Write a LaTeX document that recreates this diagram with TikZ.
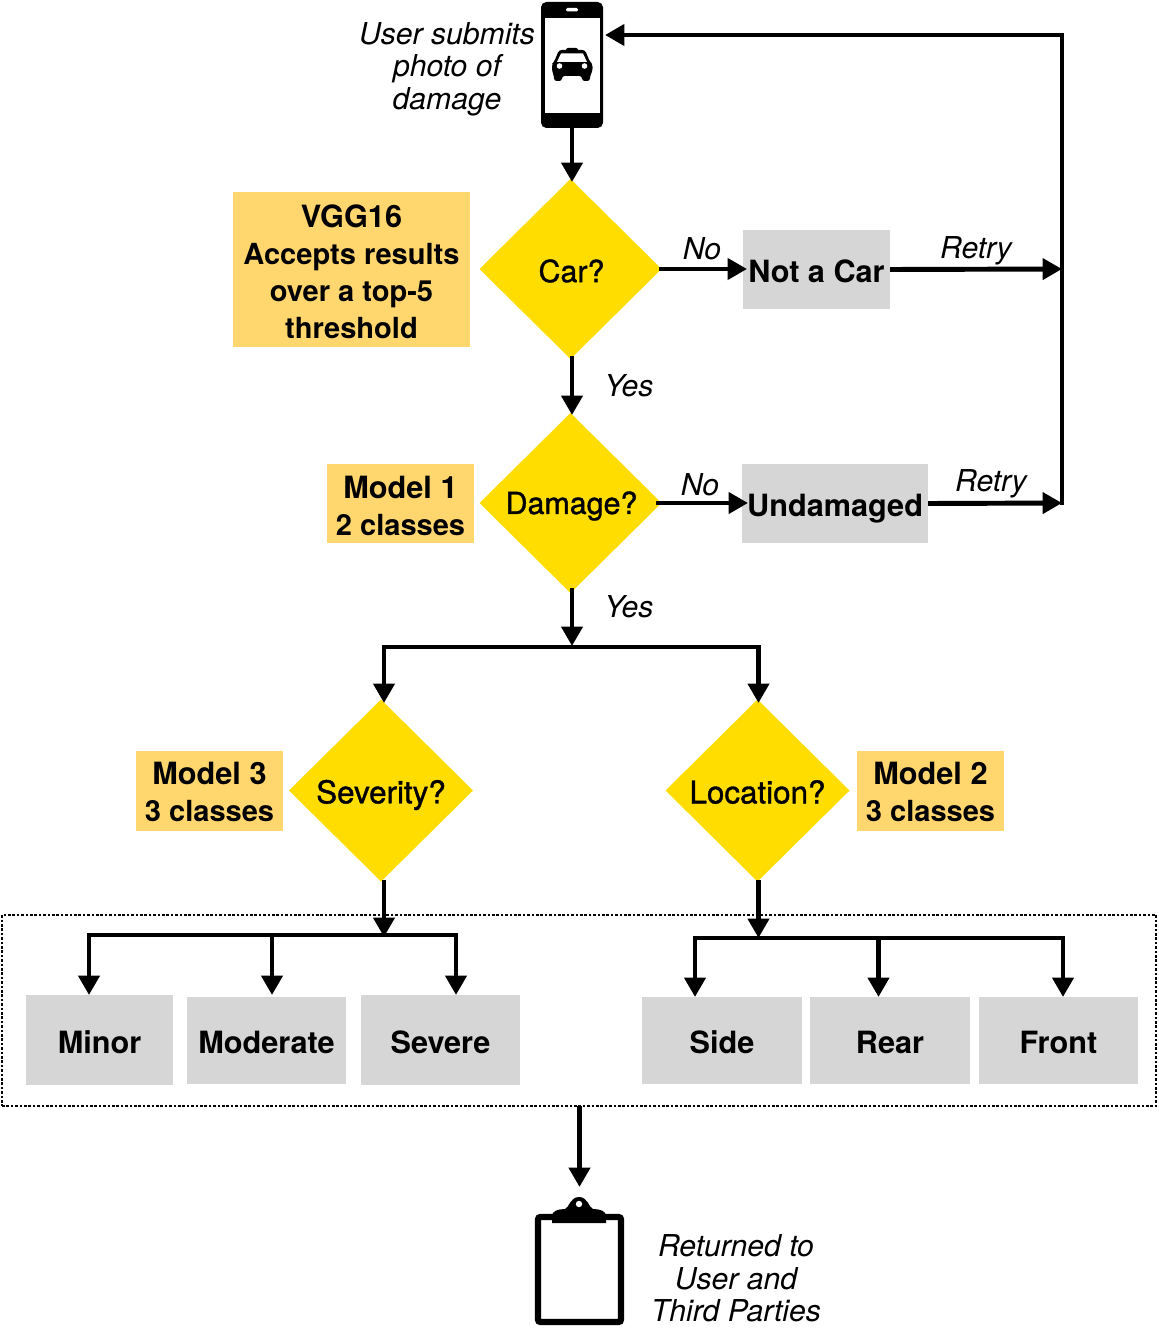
\documentclass[tikz,border=0pt]{standalone}
\usepackage{fontspec}
\setmainfont{TeX Gyre Heros}
\newfontfamily\midfont[FakeBold=1.2]{TeX Gyre Heros}
\usetikzlibrary{arrows.meta,shapes.geometric,calc}
\definecolor{dia}{HTML}{FFDD00}
\definecolor{note}{HTML}{FFD76E}
\definecolor{out}{HTML}{D6D6D6}
\tikzset{
 x=0.75pt,y=-0.75pt,
 outer sep=0pt,
 boldtxt/.style={font=\fontsize{23}{27.75}\selectfont\bfseries,align=center,inner sep=0pt,text=black},
 midtxt/.style={font=\fontsize{22.8}{27.75}\selectfont\mdseries\midfont,align=center,inner sep=0pt,text=black},
 midtxtb/.style={font=\fontsize{23.5}{27.75}\selectfont\mdseries\midfont,align=center,inner sep=0pt,text=black},
 ittxt/.style={font=\fontsize{22.6}{24.4}\selectfont\itshape,align=center,inner sep=0pt,text=black},
 dec/.style={diamond,fill=dia,aspect=1,inner sep=0pt},
 notebox/.style={rectangle,fill=note,inner sep=0pt},
 outbox/.style={rectangle,fill=out,inner sep=0pt},
 conn/.style={line width=3.7pt,draw=black},
 arr/.style={conn,-{Triangle[length=14.5pt,width=15.5pt]}},
}
\newcommand{\md}{\fontsize{21.8}{27.75}\selectfont}
% style, name, text, x1, x2, y1, y2, text shift in px
\newcommand{\rbox}[8]{%
  \node[#1,minimum width=#5*0.75pt-#4*0.75pt,minimum height=#7*0.75pt-#6*0.75pt] (#2) at ({(#4+#5)/2},{(#6+#7)/2}) {};
  \node[boldtxt] (#2t) at ([yshift=-#8*0.75pt]#2.center) {#3};}
\begin{document}
\begin{tikzpicture}
\useasboundingbox (0,0) rectangle (1158,1330);
\fill[white] (0,0) rectangle (1158,1330);
% group box
\node[rectangle,draw=black,line width=1.9pt,dash pattern=on 1.9pt off 1.4pt,minimum width=1154*0.75pt,minimum height=191*0.75pt,inner sep=0pt] (group) at (579,1010.5) {};
% phone
\node[rectangle,fill=black,rounded corners=4pt,minimum width=62*0.75pt,minimum height=126*0.75pt,inner sep=0pt] (phone) at (572,65) {};
\fill[white] (545,18) rectangle (600,113);
\fill[white,rounded corners=1pt] (566,8) rectangle (578,11.5);
% taxi
\fill[black,rounded corners=1.5pt] (566,48) rectangle (578,54);
\fill[black,rounded corners=2pt]
  (559,50) -- (585,50) -- (590,62) -- (592.5,64) -- (592.5,71) -- (590,76) -- (590,81) -- (582,81) -- (582,76) -- (562,76) -- (562,81) -- (554,81) -- (554,76) -- (552,71) -- (552,64) -- (554,62) -- cycle;
\fill[white] (561,53.5) -- (583,53.5) -- (587,62) -- (557,62) -- cycle;
\fill[white] (559.5,66) circle (2.8);
\fill[white] (584.5,66) circle (2.8);
% clipboard
\node[rectangle,draw=black,line width=4.8pt,rounded corners=2pt,minimum width=83*0.75pt,minimum height=105*0.75pt,inner sep=0pt] (clip) at (579.5,1269.5) {};
\fill[black] (552,1223) -- (606,1223) -- (606,1216) .. controls (606,1211) and (600,1209) .. (593,1209) .. controls (589,1208) and (588,1197) .. (579,1197) .. controls (570,1197) and (569,1208) .. (565,1209) .. controls (558,1209) and (552,1211) .. (552,1216) -- cycle;
\fill[white] (579,1204) circle (3.2);
% decisions
\node[dec,minimum width=182*0.75pt,minimum height=180*0.75pt] (car) at (570.5,269) {};
\node[dec,minimum width=182*0.75pt,minimum height=180*0.75pt] (damage) at (570.5,503) {};
\node[dec,minimum width=184*0.75pt,minimum height=182*0.75pt] (sev) at (381,790.5) {};
\node[dec,minimum width=184*0.75pt,minimum height=182*0.75pt] (loc) at (757.5,790.5) {};
\node[midtxt] (tcar) at (571.5,271) {Car?};
\node[midtxt] (tdam) at (571.5,506) {Damage?};
\node[midtxtb] (tsev) at (381,795) {Severity?};
\node[midtxtb] (tloc) at (757.5,792) {Location?};
% boxes
\rbox{notebox}{vgg}{VGG16\\{\md Accepts results}\\{\md over a top-5}\\{\md threshold}}{233}{470}{192}{347}{2}
\rbox{notebox}{m1}{Model 1\\{\md 2 classes}}{327}{474}{464}{543}{2}
\rbox{notebox}{m3}{Model 3\\{\md 3 classes}}{136}{283}{751}{831}{1}
\rbox{notebox}{m2}{Model 2\\{\md 3 classes}}{857}{1004}{751}{831}{1}
\rbox{outbox}{notcar}{Not a Car}{743}{890}{230}{309}{2}
\rbox{outbox}{undam}{Undamaged}{742}{928}{464}{543}{5}
\rbox{outbox}{minor}{Minor}{26}{173}{995}{1085}{2}
\rbox{outbox}{moderate}{Moderate}{187}{346}{997}{1084}{2}
\rbox{outbox}{severe}{Severe}{361}{520}{995}{1085}{2}
\rbox{outbox}{side}{Side}{642}{802}{997}{1084}{2}
\rbox{outbox}{rear}{Rear}{810}{970}{997}{1084}{2}
\rbox{outbox}{front}{Front}{979}{1138}{997}{1084}{2}
% labels
\node[ittxt] (l1) at (447,69) {User submits\\photo of\\damage};
\node[ittxt] (l2) at (736,1278.5) {Returned to\\User and\\Third Parties};
\node[ittxt] (n1) at (702,249) {No};
\node[ittxt] (r1) at (976,251) {Retry};
\node[ittxt] (y1) at (629,386) {Yes};
\node[ittxt] (n2) at (700,485) {No};
\node[ittxt] (r2) at (991,484) {Retry};
\node[ittxt] (y2) at (629,607) {Yes};
% junction coordinates
\coordinate (tr) at (1062,269);
\coordinate (br) at (1062,503);
\coordinate (tp) at (1062,35);
\coordinate (phin) at (605,35);
\coordinate (sl) at (384,647);
\coordinate (sr) at (758.5,647);
\coordinate (split) at (572,646);
\coordinate (sevtop) at (384,703);
\coordinate (loctop) at (758.5,703);
\coordinate (sevbot) at (384,880);
\coordinate (locbot) at (758.5,880);
\coordinate (sevj) at (384,937);
\coordinate (locj) at (758.5,938);
\coordinate (a1) at (89,935);\coordinate (a1e) at (89,995);
\coordinate (a2) at (272,935);\coordinate (a2e) at (272,995);
\coordinate (a3) at (456,935);\coordinate (a3e) at (456,995);
\coordinate (b1) at (695,938);\coordinate (b1e) at (695,997);
\coordinate (b2) at (878.5,938);\coordinate (b2e) at (878.5,997);
\coordinate (b3) at (1063,938);\coordinate (b3e) at (1063,997);
\coordinate (carin) at (572,182);
\coordinate (damin) at (572,415);
\coordinate (ptout) at (572,128);
\coordinate (cout) at (572,356);
\coordinate (dout) at (572,588);
\coordinate (ce) at (659,269);
\coordinate (de) at (656,503);
\coordinate (nci) at (747,269);
\coordinate (ui) at (748,503);
\coordinate (clipin) at (579.5,1187);
% connectors
\draw[arr] (phone.south -| ptout) -- (carin);
\draw[arr] (ce) -- (nci);
\draw[arr] (notcar.east) -- (tr);
\draw[arr] (cout) -- (damin);
\draw[arr] (de) -- (ui);
\draw[arr] (undam.east) -- (br);
\draw[conn,line cap=rect] (br) -- (tp);
\draw[conn,line cap=rect] (tp) -- (620,35);
\draw[arr] (tp) -- (phin);
\draw[arr] (dout) -- (split);
\draw[conn,line cap=rect] (sl) -- (sr);
\draw[arr] (sl) -- (sevtop);
\draw[arr] (sr) -- (loctop);
\draw[arr] (sevbot) -- (sevj);
\draw[arr] (locbot) -- (locj);
\draw[conn,line cap=rect] (a1) -- (a3);
\draw[conn,line cap=rect] (b1) -- (b3);
\draw[arr] (a1) -- (a1e);
\draw[arr] (a2) -- (a2e);
\draw[arr] (a3) -- (a3e);
\draw[arr] (b1) -- (b1e);
\draw[arr] (b2) -- (b2e);
\draw[arr] (b3) -- (b3e);
\draw[arr] (group.south -| clipin) -- (clipin);
\end{tikzpicture}
\end{document}
